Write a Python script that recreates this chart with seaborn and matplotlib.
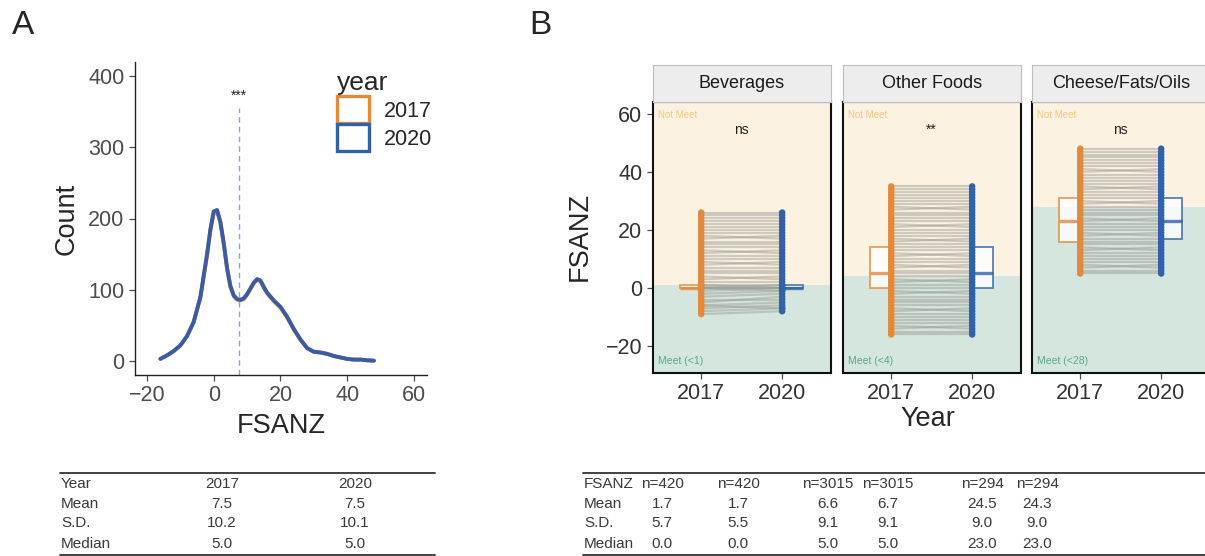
import numpy as np
import pandas as pd
import matplotlib
matplotlib.use('Agg')
import matplotlib.pyplot as plt
from matplotlib.patches import Patch
from matplotlib.lines import Line2D
import seaborn as sns

sns.set_style("ticks")
plt.rcParams['font.family'] = ['Liberation Sans', 'DejaVu Sans']

#%% data

years = ["2017", "2020"]
year_colors = {"2017": "#E2893A", "2020": "#2F62A8"}

# panel A: count curve of FSANZ scores
fsanz_x = [-16, -14, -12, -10, -8, -6, -4, -2, -1, 0, 1, 2, 3, 4, 5, 6, 7, 8, 9, 10,
           11, 12, 13, 14, 15, 16, 18, 20, 22, 24, 26, 28, 30, 32, 34, 36, 38, 40,
           42, 44, 46, 48]
count_2017 = [3, 8, 14, 22, 35, 55, 89, 149, 184, 208, 210, 194, 164, 129, 104, 91, 86,
              85, 87, 93, 101, 109, 114, 112, 103, 95, 84, 75, 61, 44, 30, 18, 13, 12,
              10, 7, 5, 3, 2, 2, 1, 0.5]
count_2020 = [3, 8, 14, 22, 35, 55, 90, 150, 185, 210, 212, 195, 165, 130, 105, 92, 87,
              86, 88, 94, 102, 110, 115, 113, 104, 96, 85, 76, 62, 45, 30, 18, 13, 12,
              10, 7, 5, 3, 2, 2, 1, 0.5]
mean_fsanz = 7.5

# panel B: paired scores per category
categories = ["Beverages", "Other Foods", "Cheese/Fats/Oils"]
thresholds = [1, 4, 28]
signif = ["ns", "**", "ns"]

bev_2017 = [-9, -8, -7, -6, -6, -5, -4, -3, -2, -1, 0, 0, 0, 0, 1, 1, 2, 3, 4, 5, 6, 7,
            8, 9, 10, 11, 12, 13, 14, 15, 16, 17, 18, 19, 20, 21, 22, 23, 24, 25, 26]
bev_2020 = [-8, -7, -6, -7, -5, -3, -4, -2, -1, 0, 0, 1, 0, -1, 1, 0, 2, 4, 3, 5, 6, 7,
            9, 8, 10, 11, 13, 12, 14, 15, 16, 18, 17, 19, 20, 21, 22, 23, 24, 25, 26]
oth_2017 = [-16, -15, -14, -13, -12, -11, -10, -9, -8, -7, -6, -5, -4, -3, -2, -1, 0, 1,
            2, 3, 4, 5, 6, 7, 8, 9, 10, 11, 12, 13, 14, 15, 16, 17, 18, 19, 20, 21, 22,
            23, 24, 25, 26, 27, 28, 29, 30, 31, 32, 33, 34, 35]
oth_2020 = [-16, -15, -13, -14, -12, -11, -10, -9, -7, -8, -6, -5, -4, -3, -1, -2, 0, 1,
            3, 2, 4, 5, 6, 8, 7, 9, 10, 12, 11, 13, 14, 15, 17, 16, 18, 19, 20, 22, 21,
            23, 24, 25, 26, 28, 27, 29, 30, 31, 32, 33, 34, 35]
che_2017 = [5, 6, 7, 8, 9, 10, 11, 12, 13, 14, 15, 16, 17, 18, 19, 20, 21, 22, 23, 24,
            25, 26, 27, 28, 29, 30, 31, 32, 33, 34, 35, 36, 37, 38, 39, 40, 41, 42, 43,
            44, 45, 46, 47, 48]
che_2020 = [5, 6, 8, 7, 9, 10, 11, 12, 14, 13, 15, 16, 17, 19, 18, 20, 21, 22, 24, 23,
            25, 26, 27, 28, 30, 29, 31, 32, 33, 35, 34, 36, 37, 38, 39, 41, 40, 42, 43,
            44, 45, 46, 47, 48]

box_q1_2017 = [0, 0, 16]
box_med_2017 = [0, 5, 23]
box_q3_2017 = [1, 14, 31]
box_q1_2020 = [0, 0, 17]
box_med_2020 = [0, 5, 23]
box_q3_2020 = [1, 14, 31]

# summary tables
tabA_rows = ["Year", "Mean", "S.D.", "Median"]
tabA_2017 = ["2017", "7.5", "10.2", "5.0"]
tabA_2020 = ["2020", "7.5", "10.1", "5.0"]

tabB_rows = ["FSANZ", "Mean", "S.D.", "Median"]
tabB_cols = [["n=420", "1.7", "5.7", "0.0"],
             ["n=420", "1.7", "5.5", "0.0"],
             ["n=3015", "6.6", "9.1", "5.0"],
             ["n=3015", "6.7", "9.1", "5.0"],
             ["n=294", "24.5", "9.0", "23.0"],
             ["n=294", "24.3", "9.0", "23.0"]]

#%% figure

W, H = 1205, 556
fig = plt.figure(figsize=(W / 100, H / 100), dpi=100)


def rect(x0, y0, x1, y1):
    return [x0 / W, 1 - y1 / H, (x1 - x0) / W, (y1 - y0) / H]


def ftext(x, y, s, **kw):
    fig.text(x / W, 1 - y / H, s, **kw)


def fline(x0, x1, y, lw=1.0):
    fig.add_artist(Line2D([x0 / W, x1 / W], [1 - y / H, 1 - y / H],
                          transform=fig.transFigure, color="#333333", lw=lw))


tick_col = "#4D4D4D"

# ---- panel A
dfa = pd.DataFrame({
    "FSANZ": fsanz_x + fsanz_x,
    "Count": count_2017 + count_2020,
    "year": ["2017"] * len(fsanz_x) + ["2020"] * len(fsanz_x),
})
axA = fig.add_axes(rect(135, 62, 427, 375))
sns.lineplot(data=dfa, x="FSANZ", y="Count", hue="year",
             palette={"2017": "#E2893A", "2020": "#3A5CA6"},
             lw=2.8, legend=False, ax=axA)
axA.plot([mean_fsanz, mean_fsanz], [-19.6, 355], ls=(0, (4, 3)), color="#8FA3D6", lw=1.0)
axA.text(mean_fsanz, 372, "***", ha="center", va="center", fontsize=10, color="#222222")
axA.set_xlim(-23.6, 63.9)
axA.set_ylim(-19.6, 419.6)
axA.set_xticks([-20, 0, 20, 40, 60])
axA.set_yticks([0, 100, 200, 300, 400])
axA.tick_params(labelsize=15.5, colors=tick_col, labelcolor=tick_col, length=4, width=0.9)
axA.set_xlabel("FSANZ", fontsize=19.5, labelpad=5)
axA.set_ylabel("Count", fontsize=19.5, labelpad=6)
for s in ["left", "bottom"]:
    axA.spines[s].set_color("#222222")
    axA.spines[s].set_linewidth(1.0)
sns.despine(ax=axA)
handles = [Patch(facecolor="white", edgecolor=year_colors[y], lw=2.4) for y in years]
leg = axA.legend(handles, years, title="year", loc="upper left",
                 bbox_to_anchor=(326 / W, 1 - 60 / H), bbox_transform=fig.transFigure,
                 frameon=False, fontsize=15.5, title_fontsize=19, handlelength=1.5,
                 handleheight=1.5, labelspacing=0.08, handletextpad=0.7, borderpad=0)
leg._legend_box.align = "left"

# ---- panel B
pairs = [(bev_2017, bev_2020), (oth_2017, oth_2020), (che_2017, che_2020)]
facet_x = [652.7, 842.7, 1031.7]
for i, cat in enumerate(categories):
    s17, s20 = pairs[i]
    n = len(s17)
    dfl = pd.DataFrame({
        "pid": list(range(n)) * 2,
        "xpos": [1] * n + [2] * n,
        "score": s17 + s20,
        "year": ["2017"] * n + ["2020"] * n,
    })
    x0 = facet_x[i]
    ax = fig.add_axes(rect(x0, 102, x0 + 178, 373))
    ax.set_xlim(0.4, 2.6)
    ax.set_ylim(-29.3, 64.1)
    thr = thresholds[i]
    ax.axhspan(thr, 64.1, color="#FCF2E2", zorder=0, lw=0)
    ax.axhspan(-29.3, thr, color="#D4E6DE", zorder=0, lw=0)

    sns.lineplot(data=dfl, x="xpos", y="score", units="pid", estimator=None,
                 color="#9A9A94", alpha=0.45, lw=1.6, sort=False, legend=False, ax=ax)

    stats = [dict(q1=box_q1_2017[i], med=box_med_2017[i], q3=box_q3_2017[i],
                  whislo=box_q1_2017[i], whishi=box_q3_2017[i], fliers=[]),
             dict(q1=box_q1_2020[i], med=box_med_2020[i], q3=box_q3_2020[i],
                  whislo=box_q1_2020[i], whishi=box_q3_2020[i], fliers=[])]
    for st, pos, y in zip(stats, [0.87, 2.13], years):
        ax.bxp([st], positions=[pos], widths=0.26, showcaps=False, showfliers=False,
               patch_artist=True,
               boxprops=dict(facecolor=(1, 1, 1, 0.35), edgecolor=year_colors[y],
                             lw=1.3, alpha=0.8),
               medianprops=dict(color=year_colors[y], lw=2.4, alpha=0.8),
               whiskerprops=dict(lw=0), manage_ticks=False)

    sns.scatterplot(data=dfl, x="xpos", y="score", hue="year", palette=year_colors,
                    s=22, linewidth=0, legend=False, ax=ax, zorder=5)

    ax.text(0.03, 59.5, "Not Meet", transform=ax.get_yaxis_transform(),
            color="#F0B54A", alpha=0.7, fontsize=7, va="center")
    ax.text(0.03, -25, "Meet (<%d)" % thr, transform=ax.get_yaxis_transform(),
            color="#3E9478", alpha=0.8, fontsize=7.5, va="center")
    ax.text(1.5, 54.5, signif[i], ha="center", va="center", fontsize=10, color="#222222")

    ax.set_xticks([1, 2])
    ax.set_xticklabels(years)
    ax.set_xlabel("")
    ax.set_ylabel("")
    ax.tick_params(axis="x", labelsize=15.5, colors=tick_col, labelcolor="#333333",
                   length=4, width=0.9)
    if i == 0:
        ax.set_yticks([-20, 0, 20, 40, 60])
        ax.tick_params(axis="y", labelsize=15.5, colors=tick_col, labelcolor="#333333",
                       length=4, width=0.9)
    else:
        ax.set_yticks([])
    for s in ax.spines.values():
        s.set_visible(True)
        s.set_color("#111111")
        s.set_linewidth(1.5)

    # strip
    sax = fig.add_axes(rect(x0, 65, x0 + 178, 102))
    sax.set_facecolor("#EDEDED")
    sax.set_xticks([])
    sax.set_yticks([])
    for s in sax.spines.values():
        s.set_visible(True)
        s.set_color("#BDBDBD")
        s.set_linewidth(0.8)
    sax.text(0.5, 0.5, cat, ha="center", va="center", fontsize=13, color="#1A1A1A",
             transform=sax.transAxes)

ftext(580, 236, "FSANZ", fontsize=19.5, rotation=90, ha="center", va="center")
ftext(928, 419, "Year", fontsize=19.5, ha="center", va="center")

# panel letters
ftext(12, 26, "A", fontsize=24, va="center", ha="left")
ftext(529, 26, "B", fontsize=24, va="center", ha="left")

# ---- tables
row_y = [484, 504, 523, 544]
tcol = "#3A3A3A"
fline(60, 435, 472.5, lw=1.3)
fline(60, 435, 555, lw=1.3)
for r, lab in enumerate(tabA_rows):
    ftext(61, row_y[r], lab, fontsize=11, color=tcol, va="center")
    ftext(222, row_y[r], tabA_2017[r], fontsize=11, color=tcol, va="center", ha="center")
    ftext(355, row_y[r], tabA_2020[r], fontsize=11, color=tcol, va="center", ha="center")

colB_x = [662, 738, 828, 888, 982, 1037]
fline(583, 1205, 472.5, lw=1.3)
fline(583, 1205, 555, lw=1.3)
for r, lab in enumerate(tabB_rows):
    ftext(584, row_y[r], lab, fontsize=11, color=tcol, va="center")
    for c, cx in enumerate(colB_x):
        ftext(cx, row_y[r], tabB_cols[c][r], fontsize=11, color=tcol, va="center",
              ha="center")

fig.savefig("out.png", dpi=100)
